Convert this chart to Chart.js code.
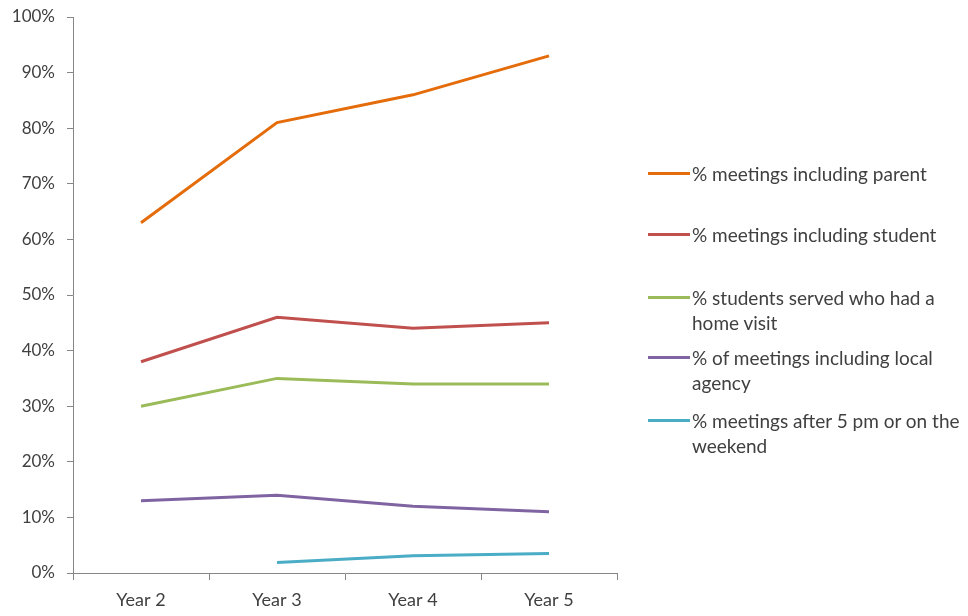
<!DOCTYPE html>
<html lang="en">
<head>
    <meta charset="UTF-8">
    <title>Meetings chart</title>
    <script src="https://cdn.jsdelivr.net/npm/chart.js@4"></script>
</head>
<style>
    body { margin: 0; background: #fff; }
    .wrap { position: relative; width: 968px; height: 616px; }
    .legend { position: absolute; left: 648px; top: 0; font-family: Lato, sans-serif; font-size: 19px; color: #404040; }
    .item { position: absolute; left: 0; width: 320px; line-height: 25px; }
    .item span.swatch { position: absolute; left: 0; top: 11px; width: 42px; height: 3px; }
    .item div { margin-left: 44px; white-space: nowrap; }
</style>
<body>
    <div class="wrap">
        <canvas id="myChart" width="968" height="616"></canvas>
        <div class="legend" id="legend"></div>
    </div>
</body>
<script>
    const categories = ['Year 2', 'Year 3', 'Year 4', 'Year 5']
    const parent = [63, 81, 86, 93]
    const student = [38, 46, 44, 45]
    const homeVisit = [30, 35, 34, 34]
    const localAgency = [13, 14, 12, 11]
    const after5pm = [null, 1.9, 3.1, 3.5]

    const seriesNames = [
        '% meetings including parent',
        '% meetings including student',
        '% students served who had a<br>home visit',
        '% of meetings including local<br>agency',
        '% meetings after 5 pm or on the<br>weekend'
    ]
    const colors = ['#E46C0A', '#C0504D', '#9BBB59', '#8064A2', '#4BACC6']
    const legendTops = [161, 222, 285, 345, 408]
    const allData = [parent, student, homeVisit, localAgency, after5pm]

    // legend on the right, built by hand
    var legend = document.getElementById('legend')
    seriesNames.forEach(function (name, i) {
        var item = document.createElement('div')
        item.className = 'item'
        item.style.top = legendTops[i] + 'px'
        item.innerHTML = '<span class="swatch" style="background:' + colors[i] + '"></span><div>' + name + '</div>'
        legend.appendChild(item)
    })

    var axisGray = '#868686'
    var ctx = document.getElementById('myChart').getContext('2d');
    var chart = new Chart(ctx, {
        type: 'line',
        data: {
            labels: categories,
            datasets: allData.map(function (d, i) {
                return {
                    label: seriesNames[i].replace('<br>', ' '),
                    data: d,
                    borderColor: colors[i],
                    backgroundColor: colors[i],
                    borderWidth: 3,
                    pointRadius: 0,
                    tension: 0
                }
            })
        },
        options: {
            responsive: false,
            animation: false,
            layout: { padding: { left: 0, right: 351, top: 17, bottom: 0 } },
            plugins: { legend: { display: false }, tooltip: { enabled: false } },
            scales: {
                x: {
                    offset: true,
                    grid: { offset: true, drawOnChartArea: false, drawTicks: true, tickLength: 7, color: axisGray },
                    border: { color: axisGray },
                    ticks: { color: '#404040', padding: 9, font: { family: 'Lato', size: 18 } },
                    afterFit: function (s) { s.height = 43; s.paddingLeft = 0; s.paddingRight = 0 }
                },
                y: {
                    min: 0,
                    max: 100,
                    grid: { drawOnChartArea: false, drawTicks: true, tickLength: 6, color: axisGray },
                    border: { color: axisGray },
                    ticks: {
                        stepSize: 10,
                        color: '#404040',
                        padding: 12,
                        font: { family: 'Lato', size: 17 },
                        callback: function (v) { return v + '%' }
                    },
                    afterFit: function (s) { s.width = 73; s.paddingTop = 0; s.paddingBottom = 0 }
                }
            }
        }
    });
</script>
</html>
